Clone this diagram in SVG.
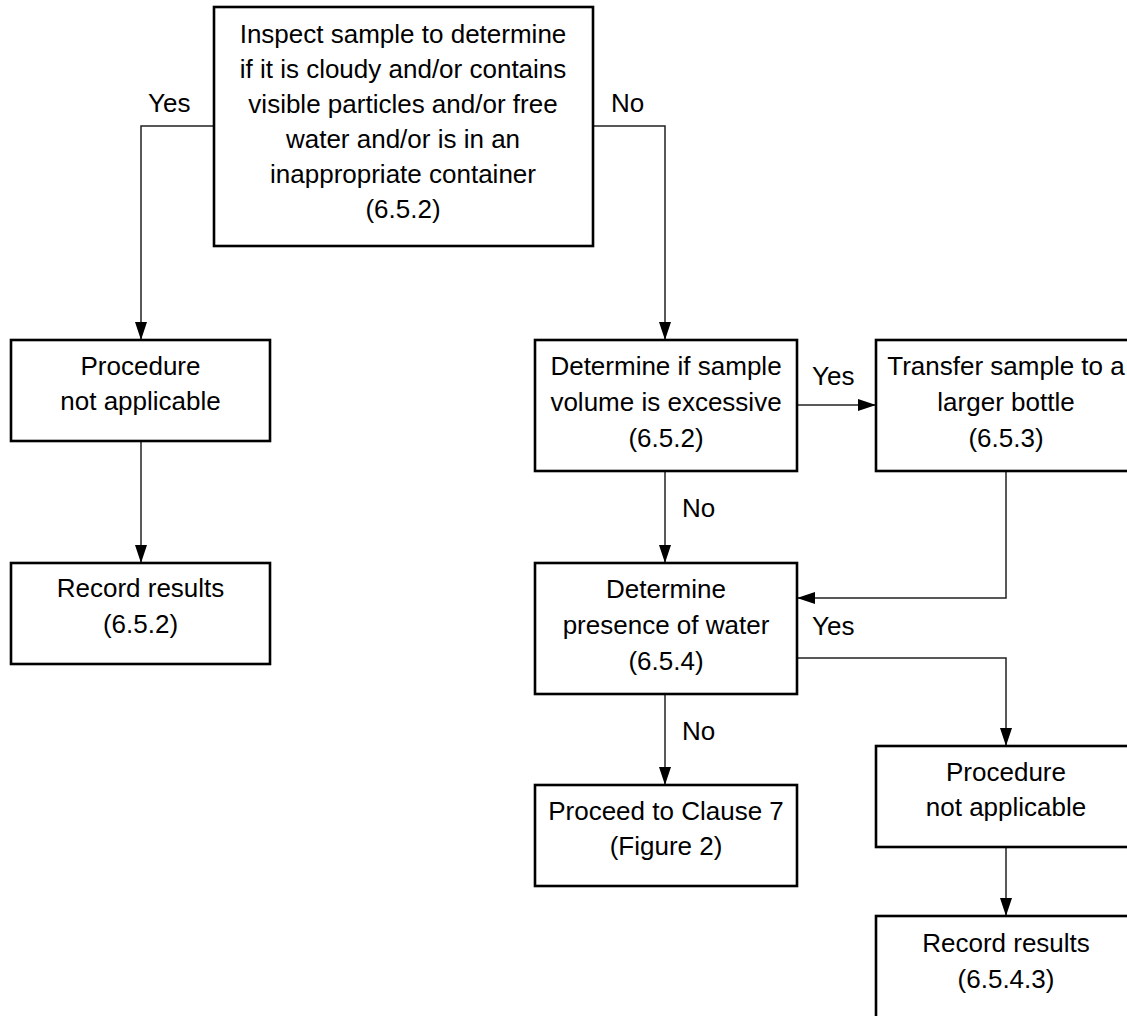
<svg xmlns="http://www.w3.org/2000/svg" width="1127" height="1016" viewBox="0 0 1127 1016">
<style>
.box{fill:#fff;stroke:#000;stroke-width:2.6}
.t{font-family:"Liberation Sans",Arial,sans-serif;font-size:26px;fill:#000;text-anchor:middle}
.l{font-family:"Liberation Sans",Arial,sans-serif;font-size:26px;fill:#000}
.c{fill:none;stroke:#222;stroke-width:1.5}
</style>
<defs>
<marker id="ah" markerWidth="18" markerHeight="12" refX="18" refY="6" orient="auto" markerUnits="userSpaceOnUse">
<path d="M0,0 L18,6 L0,12 Z" fill="#000"/>
</marker>
</defs>
<rect width="1127" height="1016" fill="#fff"/>
<g id="connectors">
<path class="c" d="M214,126 H141 V340" marker-end="url(#ah)"/>
<path class="c" d="M593,126 H665 V340" marker-end="url(#ah)"/>
<path class="c" d="M141,441 V563" marker-end="url(#ah)"/>
<path class="c" d="M797,405 H876" marker-end="url(#ah)"/>
<path class="c" d="M1006,471 V598 H797" marker-end="url(#ah)"/>
<path class="c" d="M665,471 V563" marker-end="url(#ah)"/>
<path class="c" d="M797,658 H1006 V746" marker-end="url(#ah)"/>
<path class="c" d="M665,694 V785" marker-end="url(#ah)"/>
<path class="c" d="M1006,847 V916" marker-end="url(#ah)"/>
<text class="l" x="148" y="112">Yes</text>
<text class="l" x="611" y="112">No</text>
<text class="l" x="812" y="385">Yes</text>
<text class="l" x="682" y="517">No</text>
<text class="l" x="812" y="635">Yes</text>
<text class="l" x="682" y="740">No</text>
</g>
<g id="n-inspect">
<rect class="box" x="214" y="7" width="379" height="239"/>
<text class="t" x="403" y="43">Inspect sample to determine</text>
<text class="t" x="403" y="78">if it is cloudy and/or contains</text>
<text class="t" x="403" y="113">visible particles and/or free</text>
<text class="t" x="403" y="148">water and/or is in an</text>
<text class="t" x="403" y="183">inappropriate container</text>
<text class="t" x="403" y="218">(6.5.2)</text>
</g>
<g id="n-proc-left">
<rect class="box" x="11" y="340" width="259" height="101"/>
<text class="t" x="140.5" y="375">Procedure</text>
<text class="t" x="140.5" y="410">not applicable</text>
</g>
<g id="n-record-left">
<rect class="box" x="11" y="563" width="259" height="101"/>
<text class="t" x="140.5" y="597">Record results</text>
<text class="t" x="140.5" y="633">(6.5.2)</text>
</g>
<g id="n-volume">
<rect class="box" x="535" y="340" width="262" height="131"/>
<text class="t" x="666" y="375">Determine if sample</text>
<text class="t" x="666" y="411">volume is excessive</text>
<text class="t" x="666" y="447">(6.5.2)</text>
</g>
<g id="n-transfer">
<rect class="box" x="876" y="340" width="262" height="131"/>
<text class="t" x="1006" y="375">Transfer sample to a</text>
<text class="t" x="1006" y="411">larger bottle</text>
<text class="t" x="1006" y="447">(6.5.3)</text>
</g>
<g id="n-water">
<rect class="box" x="535" y="563" width="262" height="131"/>
<text class="t" x="666" y="598">Determine</text>
<text class="t" x="666" y="634">presence of water</text>
<text class="t" x="666" y="670">(6.5.4)</text>
</g>
<g id="n-proceed">
<rect class="box" x="535" y="785" width="262" height="101"/>
<text class="t" x="666" y="820">Proceed to Clause 7</text>
<text class="t" x="666" y="855">(Figure 2)</text>
</g>
<g id="n-proc-right">
<rect class="box" x="876" y="746" width="262" height="101"/>
<text class="t" x="1006" y="781">Procedure</text>
<text class="t" x="1006" y="816">not applicable</text>
</g>
<g id="n-record-right">
<rect class="box" x="876" y="916" width="262" height="120"/>
<text class="t" x="1006" y="952">Record results</text>
<text class="t" x="1006" y="988">(6.5.4.3)</text>
</g>
</svg>
